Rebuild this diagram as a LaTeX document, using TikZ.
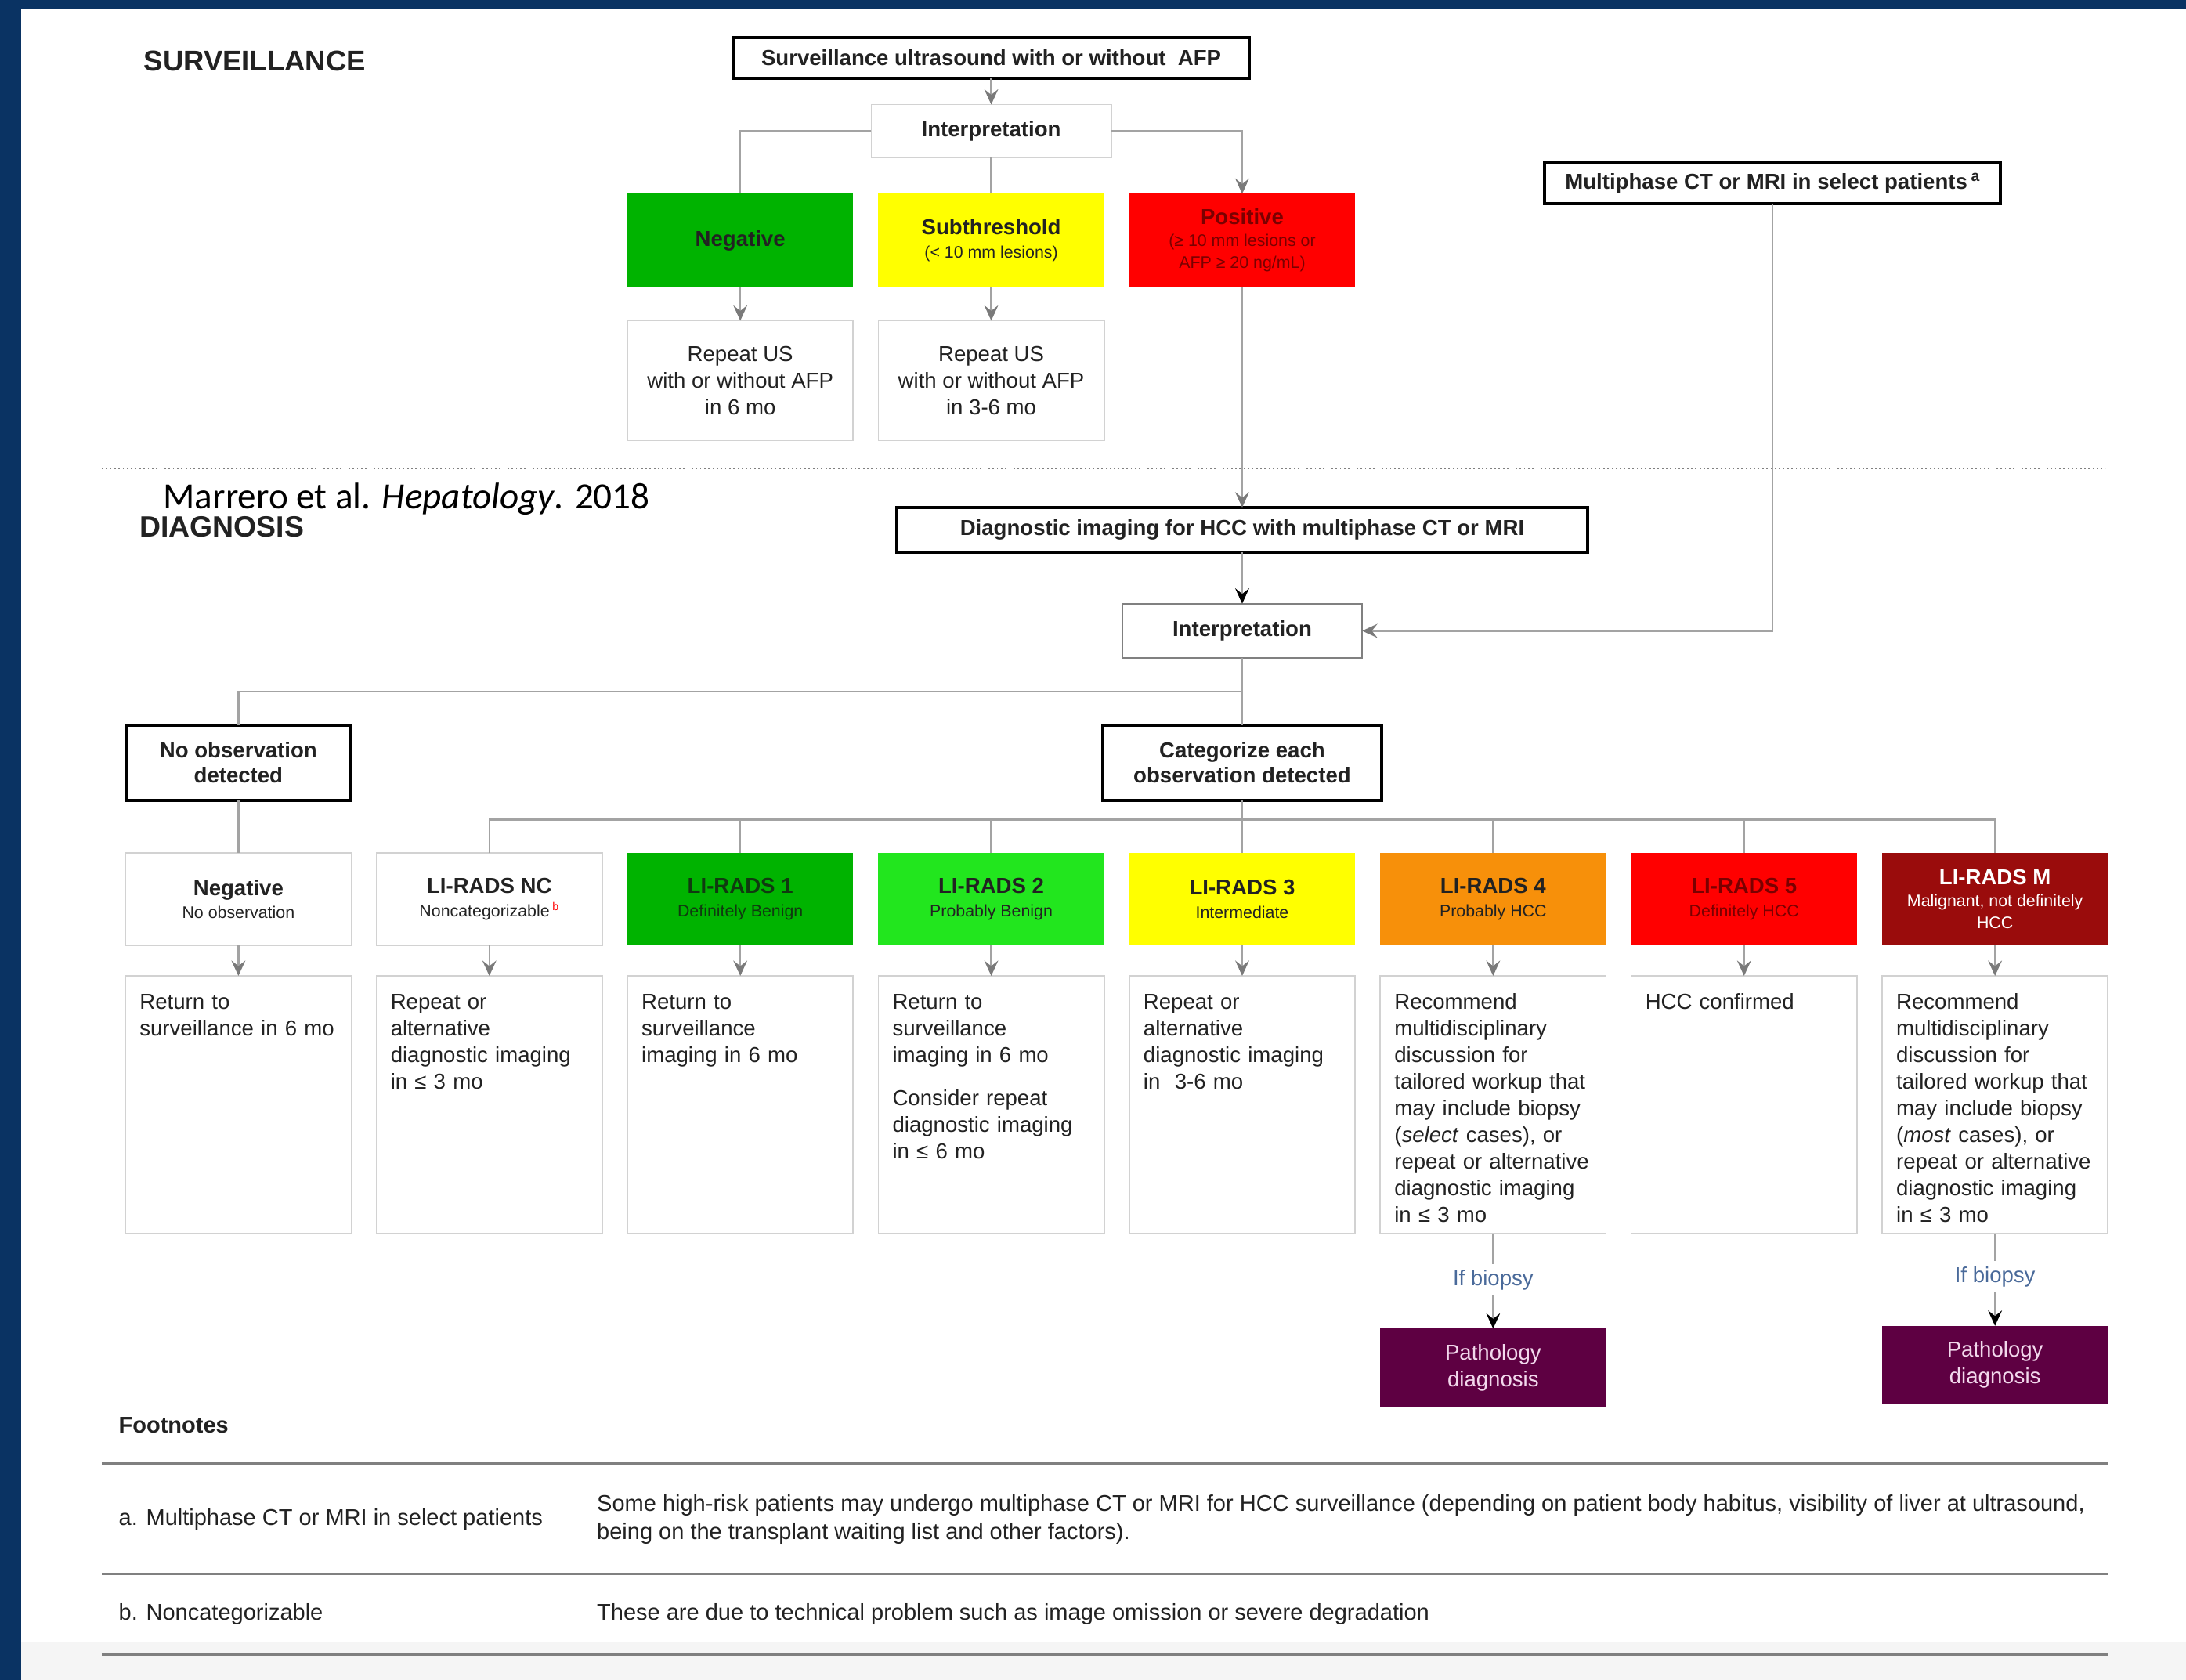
\documentclass[tikz,border=0pt]{standalone}
\usepackage{fontspec}
\setmainfont{Liberation Sans}
\newfontfamily\calib{Carlito}
\usetikzlibrary{arrows.meta}
\definecolor{navy}{HTML}{0A3363}
\definecolor{boxgray}{HTML}{D2D2D2}
\definecolor{linegray}{HTML}{A3A3A3}
\definecolor{arrgray}{HTML}{7A7A7A}
\definecolor{txt}{HTML}{222222}
\definecolor{sgreen}{HTML}{00B300}
\definecolor{lgreen}{HTML}{22E61E}
\definecolor{yellowc}{HTML}{FFFF00}
\definecolor{redc}{HTML}{FF0000}
\definecolor{dred}{HTML}{7A0000}
\definecolor{orangec}{HTML}{F7900A}
\definecolor{lrm}{HTML}{9A0C0C}
\definecolor{purp}{HTML}{5E0042}
\definecolor{pinkt}{HTML}{F2D8EC}
\definecolor{biopsy}{HTML}{4A6A9A}
\definecolor{dgreentxt}{HTML}{103A10}
\definecolor{botgray}{HTML}{F5F5F5}
\newcommand\bodyfs{\fontsize{15.5}{19.1}\selectfont}
\newcommand\boldfs{\fontsize{15.5}{18}\selectfont\bfseries}
\newcommand\subfs{\fontsize{12}{18}\selectfont}
\newcommand\footfs{\fontsize{16.3}{20}\selectfont}
\begin{document}
\begin{tikzpicture}[x=1pt,y=-1pt,
  every node/.style={text=txt},
  hdr/.style={minimum width=162, minimum height=66, inner sep=0, outer sep=0, align=center, font=\fontsize{12}{16.8}\selectfont},
  hdrthree/.style={hdr, font=\fontsize{12}{15.8}\selectfont},
  cbox/.style={draw=boxgray, line width=1pt, fill=white, minimum width=162, minimum height=185, inner sep=0, outer sep=0},
  tbox/.style={draw=black, line width=2.2pt, fill=white, inner sep=0, outer sep=0, align=center},
  gbox/.style={draw=boxgray, line width=1pt, fill=white, inner sep=0, outer sep=0, align=center},
  ctext/.style={anchor=north west, inner sep=0, text width=152, align=left, font=\bodyfs},
  conn/.style={draw=linegray, line width=1.3pt},
  garrow/.style={conn, -{Stealth[length=11pt,width=10pt,inset=4pt,color=arrgray]}},
  barrow/.style={conn, -{Stealth[length=11pt,width=10pt,inset=4pt,color=black]}},
  fline/.style={draw=gray, line width=1.8pt}
]
\useasboundingbox (0,0) rectangle (1568,1205);
% background
\fill[white] (0,0) rectangle (1568,1205);
\fill[botgray] (15,1178) rectangle (1568,1205);
\fill[navy] (0,0) rectangle (1568,6);
\fill[navy] (0,0) rectangle (15,1205);

% section labels
\node[anchor=west, inner sep=0, font=\fontsize{20.5}{24}\selectfont\bfseries] (survlab) at (103,44) {SURVEILLANCE};
\node[anchor=west, inner sep=0, font=\fontsize{21}{24}\selectfont\bfseries] (diaglab) at (100,378) {DIAGNOSIS};
\node[anchor=west, inner sep=0, text=black, font=\calib\fontsize{26.5}{30}\selectfont] (cite) at (117,358) {Marrero et al. \textit{Hepatology}. 2018};

% dotted separator
\draw[gray, line width=1pt, dotted] (73,336) -- (1510,336);

% ---------- Surveillance ----------
\node[tbox, minimum width=370, minimum height=29, font=\boldfs] (us) at (711,41.5) {Surveillance ultrasound with or without\ \ AFP};
\node[gbox, minimum width=172, minimum height=38, font=\boldfs] (int1) at (711,94) {Interpretation};
\node[hdr, fill=sgreen, minimum height=67] (sneg) at (531,172.5) {\boldfs Negative};
\node[hdr, fill=yellowc, minimum height=67] (ssub) at (711,172.5) {{\boldfs Subthreshold}\\(< 10 mm lesions)};
\node[hdrthree, fill=redc, minimum height=67, text=dred] (spos) at (891,172.5) {{\boldfs Positive}\\(≥ 10 mm lesions or\\AFP ≥ 20 ng/mL)};
\node[gbox, minimum width=162, minimum height=86, font=\bodyfs] (rep1) at (531,273) {Repeat US\\with or without AFP\\in 6 mo};
\node[gbox, minimum width=162, minimum height=86, font=\bodyfs] (rep2) at (711,273) {Repeat US\\with or without AFP\\in 3-6 mo};
\node[tbox, minimum width=327, minimum height=29, font=\boldfs] (multi) at (1271.5,131.5) {Multiphase CT or MRI in select patients\,\textsuperscript{a}};

\draw[garrow] (us.south) -- (int1.north);
\draw[conn] (int1.west) -| (sneg.north);
\draw[conn] (int1.south) -- (ssub.north);
\draw[garrow] (int1.east) -| (spos.north);
\draw[garrow] (sneg.south) -- (rep1.north);
\draw[garrow] (ssub.south) -- (rep2.north);

% ---------- Diagnosis ----------
\node[tbox, minimum width=496, minimum height=32, font=\boldfs] (diag) at (891,380) {Diagnostic imaging for HCC with multiphase CT or MRI};
\node[draw=gray, line width=1pt, fill=white, inner sep=0, outer sep=0, minimum width=172, minimum height=39, font=\boldfs] (int2) at (891,452.5) {Interpretation};
\node[tbox, minimum width=160, minimum height=54, font=\boldfs] (noobs) at (171,547) {No observation\\detected};
\node[tbox, minimum width=200, minimum height=54, font=\boldfs] (cat) at (891,547) {Categorize each\\observation detected};

\draw[garrow] (spos.south) -- (diag.north);
\draw[barrow] (diag.south) -- (int2.north);
\draw[garrow] (multi.south) |- (int2.east);
\draw[conn] (int2.south) -- (cat.north);
\coordinate (br) at (891,496);
\draw[conn] (br) -| (noobs.north);

% headers
\node[hdr, draw=boxgray, line width=1pt, fill=white] (h0) at (171,645) {{\boldfs Negative}\\No observation};
\node[hdr, draw=boxgray, line width=1pt, fill=white] (h1) at (351,645) {{\boldfs LI-RADS NC}\\Noncategorizable\,\textsuperscript{\textcolor{red}{b}}};
\node[hdr, fill=sgreen, text=dgreentxt] (h2) at (531,645) {{\boldfs LI-RADS 1}\\Definitely Benign};
\node[hdr, fill=lgreen] (h3) at (711,645) {{\boldfs LI-RADS 2}\\Probably Benign};
\node[hdr, fill=yellowc] (h4) at (891,645) {{\boldfs LI-RADS 3}\\Intermediate};
\node[hdr, fill=orangec] (h5) at (1071,645) {{\boldfs LI-RADS 4}\\Probably HCC};
\node[hdr, fill=redc, text=dred] (h6) at (1251,645) {{\boldfs LI-RADS 5}\\Definitely HCC};
\node[hdrthree, fill=lrm, text=white] (h7) at (1431,645) {{\boldfs LI-RADS M}\\Malignant, not definitely\\HCC};

\draw[conn] (noobs.south) -- (h0.north);
\coordinate (cj) at (891,588);
\draw[conn] (cat.south) -- (cj);
\draw[conn] (h1.north) |- (cj) -| (h7.north);
\foreach \k in {2,...,6} { \draw[conn] (h\k.north) -- (h\k.north |- cj); }

% content boxes
\foreach \k/\xx in {0/171,1/351,2/531,3/711,4/891,5/1071,6/1251,7/1431} {
  \node[cbox] (c\k) at (\xx,792.5) {};
  \draw[garrow] (h\k.south) -- (c\k.north);
}
\node[ctext] (t0) at ([xshift=10pt,yshift=-11.5pt]c0.north west) {\rule{0pt}{12pt}Return to\\surveillance in 6 mo};
\node[ctext] (t1) at ([xshift=10pt,yshift=-11.5pt]c1.north west) {\rule{0pt}{12pt}Repeat or\\alternative\\diagnostic imaging\\in ≤ 3 mo};
\node[ctext] (t2) at ([xshift=10pt,yshift=-11.5pt]c2.north west) {\rule{0pt}{12pt}Return to\\surveillance\\imaging in 6 mo};
\node[ctext] (t3) at ([xshift=10pt,yshift=-11.5pt]c3.north west) {\rule{0pt}{12pt}Return to\\surveillance\\imaging in 6 mo\\[12pt]Consider repeat\\diagnostic imaging\\in ≤ 6 mo};
\node[ctext] (t4) at ([xshift=10pt,yshift=-11.5pt]c4.north west) {\rule{0pt}{12pt}Repeat or\\alternative\\diagnostic imaging\\in\ \ 3-6 mo};
\node[ctext] (t5) at ([xshift=10pt,yshift=-11.5pt]c5.north west) {\rule{0pt}{12pt}Recommend\\multidisciplinary\\discussion for\\tailored workup that\\may include biopsy\\(\textit{select} cases), or\\repeat or alternative\\diagnostic imaging\\in ≤ 3 mo};
\node[ctext] (t6) at ([xshift=10pt,yshift=-11.5pt]c6.north west) {\rule{0pt}{12pt}HCC confirmed};
\node[ctext] (t7) at ([xshift=10pt,yshift=-11.5pt]c7.north west) {\rule{0pt}{12pt}Recommend\\multidisciplinary\\discussion for\\tailored workup that\\may include biopsy\\(\textit{most} cases), or\\repeat or alternative\\diagnostic imaging\\in ≤ 3 mo};

% biopsy branches
\node[inner sep=0, text=biopsy, font=\bodyfs] (ib1) at (1071,918) {If biopsy};
\node[inner sep=0, text=biopsy, font=\bodyfs] (ib2) at (1431,916) {If biopsy};
\node[hdr, fill=purp, minimum height=56, text=pinkt, font=\bodyfs] (p1) at (1071,981) {Pathology\\diagnosis};
\node[hdr, fill=purp, minimum height=56, text=pinkt, font=\bodyfs] (p2) at (1431,979) {Pathology\\diagnosis};
\draw[conn] (c5.south) -- ([yshift=4pt]ib1.north);
\draw[barrow] ([yshift=-3pt]ib1.south) -- (p1.north);
\draw[conn] (c7.south) -- ([yshift=4pt]ib2.north);
\draw[barrow] ([yshift=-3pt]ib2.south) -- (p2.north);

% ---------- Footnotes ----------
\node[anchor=west, inner sep=0, font=\footfs\bfseries] (fnh) at (85,1022) {Footnotes};
\coordinate (fl1a) at (73,1050); \coordinate (fl1b) at (1512,1050);
\coordinate (fl2a) at (73,1129); \coordinate (fl2b) at (1512,1129);
\coordinate (fl3a) at (73,1187); \coordinate (fl3b) at (1512,1187);
\draw[fline] (fl1a) -- (fl1b);
\draw[fline] (fl2a) -- (fl2b);
\draw[fline] (fl3a) -- (fl3b);
\node[anchor=west, inner sep=0, font=\footfs] (fa) at (85,1090) {a. Multiphase CT or MRI in select patients};
\node[anchor=west, inner sep=0, font=\footfs, align=left] (fat) at (428,1090) {Some high-risk patients may undergo multiphase CT or MRI for HCC surveillance (depending on patient body habitus, visibility of liver at ultrasound,\\being on the transplant waiting list and other factors).};
\node[anchor=west, inner sep=0, font=\footfs] (fb) at (85,1158) {b. Noncategorizable};
\node[anchor=west, inner sep=0, font=\footfs] (fbt) at (428,1158) {These are due to technical problem such as image omission or severe degradation};
\end{tikzpicture}
\end{document}
